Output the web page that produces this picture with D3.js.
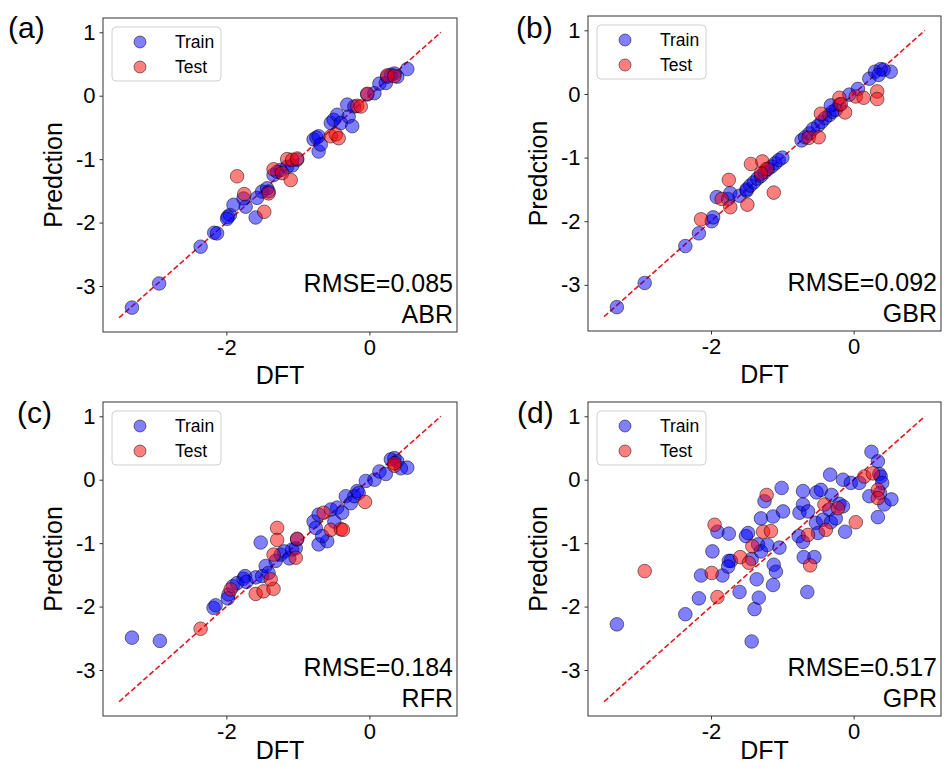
<!DOCTYPE html>
<html>
<head>
<meta charset="utf-8">
<script src="https://cdn.jsdelivr.net/npm/d3@7"></script>
<style>
  html, body { margin: 0; padding: 0; background: #fff; }
  svg text { font-family: "Liberation Sans", Arial, Helvetica, sans-serif; fill: #000; }
</style>
</head>
<body>
<svg id="chart" width="944" height="771"></svg>
<script>
// DFT vs predicted values, [DFT, prediction] pairs for each regressor
const abrTrain = [[-3.32,-3.34],[-2.94,-2.96],[-2.36,-2.38],[-2.17,-2.16],[-2.13,-2.17],[-1.98,-1.91],[-1.95,-1.88],[-1.99,-1.94],[-1.90,-1.72],[-1.73,-1.75],[-1.76,-1.62],[-1.59,-1.92],[-1.57,-1.61],[-1.50,-1.51],[-1.43,-1.46],[-1.41,-1.51],[-1.34,-1.25],[-1.29,-1.20],[-1.24,-1.17],[-1.15,-1.12],[-1.08,-1.10],[-1.01,-1.01],[-0.78,-0.69],[-0.74,-0.66],[-0.71,-0.64],[-0.71,-0.88],[-0.68,-0.77],[-0.54,-0.43],[-0.50,-0.38],[-0.45,-0.30],[-0.40,-0.43],[-0.31,-0.14],[-0.29,-0.33],[-0.24,-0.48],[-0.21,-0.17],[-0.03,0.02],[0.07,0.04],[0.14,0.19],[0.23,0.20],[0.30,0.33],[0.35,0.35],[0.39,0.30],[0.53,0.42],[0.25,0.30]];
const abrTest = [[-1.85,-1.27],[-1.75,-1.55],[-1.47,-1.83],[-1.41,-1.54],[-1.34,-1.16],[-1.22,-1.22],[-1.15,-1.00],[-1.08,-1.01],[-1.01,-0.99],[-1.10,-1.33],[-0.54,-0.64],[-0.47,-0.61],[-0.43,-0.67],[-0.17,-0.16],[-0.12,-0.17],[-0.03,0.03],[0.25,0.32],[0.35,0.31]];

const gbrTrain = [[-3.32,-3.35],[-2.93,-2.97],[-2.36,-2.39],[-2.17,-2.19],[-1.99,-2.00],[-1.97,-1.94],[-1.92,-1.62],[-1.76,-1.65],[-1.73,-1.56],[-1.60,-1.60],[-1.50,-1.52],[-1.50,-1.50],[-1.45,-1.44],[-1.40,-1.39],[-1.35,-1.33],[-1.30,-1.29],[-1.25,-1.23],[-1.20,-1.18],[-1.15,-1.14],[-1.10,-1.09],[-1.05,-1.04],[-1.00,-1.00],[-0.73,-0.73],[-0.68,-0.68],[-0.62,-0.62],[-0.57,-0.55],[-0.50,-0.50],[-0.45,-0.44],[-0.40,-0.38],[-0.34,-0.33],[-0.30,-0.28],[-0.25,-0.25],[-0.20,-0.17],[-0.32,-0.18],[-0.06,-0.01],[0.06,0.08],[0.22,0.24],[0.30,0.35],[0.38,0.39],[0.52,0.35],[0.42,0.38],[0.35,0.30]];
const gbrTest = [[-2.14,-1.97],[-1.85,-1.65],[-1.75,-1.35],[-1.73,-1.78],[-1.49,-1.74],[-1.44,-1.10],[-1.28,-1.06],[-1.22,-1.18],[-1.12,-1.55],[-0.63,-0.69],[-0.49,-0.68],[-0.46,-0.31],[-0.20,-0.06],[-0.12,-0.29],[0.03,-0.04],[0.14,-0.06],[0.33,0.04],[0.33,-0.08],[-0.18,-0.16],[-1.30,-1.25]];

const rfrTrain = [[-3.32,-2.49],[-2.93,-2.54],[-2.18,-2.02],[-2.15,-1.98],[-1.98,-1.87],[-1.97,-1.81],[-1.91,-1.68],[-1.85,-1.63],[-1.76,-1.56],[-1.74,-1.52],[-1.72,-1.61],[-1.59,-1.54],[-1.52,-0.99],[-1.50,-1.52],[-1.45,-1.36],[-1.41,-1.47],[-1.31,-1.28],[-1.24,-1.18],[-1.19,-1.13],[-1.12,-1.24],[-1.08,-1.10],[-1.03,-1.08],[-1.01,-0.94],[-0.78,-0.66],[-0.71,-0.55],[-0.75,-0.76],[-0.71,-1.02],[-0.59,-0.97],[-0.66,-0.89],[-0.54,-0.47],[-0.49,-0.66],[-0.45,-0.44],[-0.38,-0.52],[-0.33,-0.26],[-0.26,-0.37],[-0.21,-0.26],[-0.17,-0.18],[-0.15,-0.21],[-0.05,-0.02],[0.07,0.00],[0.14,0.13],[0.23,0.09],[0.30,0.32],[0.35,0.34],[0.39,0.29],[0.53,0.19],[0.44,0.18]];
const rfrTest = [[-2.36,-2.35],[-1.94,-1.73],[-1.59,-1.80],[-1.48,-1.76],[-1.34,-1.72],[-1.38,-1.57],[-1.34,-1.18],[-1.29,-0.76],[-1.29,-0.95],[-1.03,-1.23],[-1.01,-0.93],[-0.64,-0.52],[-0.54,-0.79],[-0.40,-0.78],[-0.37,-0.79],[-0.06,-0.35],[0.35,0.22],[0.35,0.26]];

const gprTrain = [[-3.32,-2.28],[-2.36,-2.12],[-2.17,-1.87],[-2.14,-1.51],[-1.98,-1.13],[-1.91,-0.82],[-1.84,-1.51],[-1.75,-0.85],[-1.75,-1.28],[-1.72,-1.28],[-1.76,-1.37],[-1.60,-1.77],[-1.51,-0.89],[-1.48,-0.84],[-1.43,-1.25],[-1.43,-2.55],[-1.39,-2.04],[-1.36,-1.57],[-1.34,-1.02],[-1.33,-1.86],[-1.30,-1.13],[-1.30,-0.61],[-1.25,-0.34],[-1.21,-1.03],[-1.13,-0.58],[-1.12,-1.34],[-1.09,-1.45],[-1.13,-1.66],[-1.04,-1.07],[-1.01,-0.13],[-0.99,-0.50],[-0.77,-0.89],[-0.76,-0.52],[-0.71,-0.39],[-0.71,-0.18],[-0.71,-0.98],[-0.70,-1.22],[-0.64,-0.50],[-0.65,-1.77],[-0.55,-1.22],[-0.53,-0.68],[-0.52,-0.20],[-0.50,-0.84],[-0.46,-0.16],[-0.43,-0.63],[-0.34,-0.47],[-0.32,-0.67],[-0.31,-0.24],[-0.33,0.08],[-0.25,-0.61],[-0.20,-0.38],[-0.15,-0.42],[-0.15,0.00],[-0.12,-0.82],[-0.04,-0.05],[0.08,-0.05],[0.25,0.44],[0.22,-0.26],[0.34,0.29],[0.36,0.09],[0.38,0.05],[0.40,-0.05],[0.34,-0.59],[0.37,-0.21],[0.43,-0.39],[0.53,-0.31]];
const gprTest = [[-2.93,-1.44],[-1.99,-1.47],[-1.95,-0.71],[-1.91,-1.85],[-1.59,-1.22],[-1.47,-1.31],[-1.42,-1.05],[-1.27,-0.82],[-1.22,-0.24],[-1.16,-0.81],[-0.64,-0.87],[-0.61,-1.35],[-0.39,-0.79],[-0.41,-0.39],[-0.22,-0.45],[0.03,-0.67],[0.15,0.05],[0.27,0.10],[0.34,-0.16],[0.34,-0.29]];

const panelLetters = ["(a)", "(b)", "(c)", "(d)"];
const modelNames = ["ABR", "GBR", "RFR", "GPR"];
const rmseValues = ["0.085", "0.092", "0.184", "0.517"];
const trainSets = [abrTrain, gbrTrain, rfrTrain, gprTrain];
const testSets = [abrTest, gbrTest, rfrTest, gprTest];
const xTicks = [-2, 0];
const yTicks = [1, 0, -1, -2, -3];
const seriesNames = ["Train", "Test"];
const axisDomain = [-3.725, 1.225];
const refLine = [-3.5, 1];

// Axes boxes (pixel frames), panel-letter anchors and x-title offsets
const frames = [
  {l: 103, r: 457, t: 18, b: 332, lx: 8, ly: 38, xt: 52},
  {l: 588, r: 941, t: 16, b: 331, lx: 516, ly: 38, xt: 52},
  {l: 103, r: 457, t: 402, b: 716, lx: 17, ly: 423, xt: 43},
  {l: 588, r: 941, t: 402, b: 716, lx: 517, ly: 423, xt: 43}
];

const trainStyle = {fill: "#0000ff"};
const testStyle = {fill: "#ff0000"};
const markerR = 6.8;

const svg = d3.select("#chart");

frames.forEach((f, i) => {
  const x = d3.scaleLinear().domain(axisDomain).range([f.l, f.r]);
  const y = d3.scaleLinear().domain(axisDomain).range([f.b, f.t]);
  const g = svg.append("g");

  // y = x reference line
  g.append("line")
    .attr("x1", x(refLine[0])).attr("y1", y(refLine[0]))
    .attr("x2", x(refLine[1])).attr("y2", y(refLine[1]))
    .attr("stroke", "#e8141c").attr("stroke-width", 1.6)
    .attr("stroke-dasharray", "5.5,2.6");

  const drawPts = (data, style) => {
    g.append("g").selectAll("circle").data(data).join("circle")
      .attr("cx", d => x(d[0])).attr("cy", d => y(d[1]))
      .attr("r", markerR)
      .attr("fill", style.fill).attr("fill-opacity", 0.5)
      .attr("stroke", "#000").attr("stroke-opacity", 0.5).attr("stroke-width", 1);
  };
  drawPts(trainSets[i], trainStyle);
  drawPts(testSets[i], testStyle);

  // frame
  g.append("rect")
    .attr("x", f.l).attr("y", f.t).attr("width", f.r - f.l).attr("height", f.b - f.t)
    .attr("fill", "none").attr("stroke", "#333").attr("stroke-width", 1);

  // axes
  const xa = g.append("g").attr("transform", `translate(0,${f.b})`)
    .call(d3.axisBottom(x).tickValues(xTicks).tickSize(3.5).tickPadding(4).tickFormat(d => String(d)));
  const ya = g.append("g").attr("transform", `translate(${f.l},0)`)
    .call(d3.axisLeft(y).tickValues(yTicks).tickSize(3.5).tickPadding(4).tickFormat(d => String(d)));
  [xa, ya].forEach(a => {
    a.select(".domain").remove();
    a.selectAll(".tick line").attr("stroke", "#333");
    a.selectAll(".tick text").attr("font-size", 22).attr("font-family", '"Liberation Sans", Arial, sans-serif').attr("fill", "#000");
  });

  // axis titles
  g.append("text").attr("x", (f.l + f.r) / 2).attr("y", f.b + f.xt)
    .attr("text-anchor", "middle").attr("font-size", 25).text("DFT");
  g.append("text")
    .attr("transform", `translate(${f.l - 41},${(f.t + f.b) / 2}) rotate(-90)`)
    .attr("text-anchor", "middle").attr("font-size", 25).text("Predction");

  // panel letter
  g.append("text").attr("x", f.lx).attr("y", f.ly).attr("font-size", 30).text(panelLetters[i]);

  // metric annotation
  g.append("text").attr("x", f.r - 4).attr("y", f.b - 40)
    .attr("text-anchor", "end").attr("font-size", 25).text("RMSE=" + rmseValues[i]);
  g.append("text").attr("x", f.r - 4).attr("y", f.b - 9)
    .attr("text-anchor", "end").attr("font-size", 25).text(modelNames[i]);

  // legend
  const lg = g.append("g").attr("transform", `translate(${f.l + 9},${f.t + 9})`);
  lg.append("rect").attr("width", 109).attr("height", 54).attr("rx", 4)
    .attr("fill", "#fff").attr("fill-opacity", 0.8)
    .attr("stroke", "#d0d0d0").attr("stroke-width", 1);
  [trainStyle, testStyle].forEach((s, k) => {
    lg.append("circle").attr("cx", 28).attr("cy", 15 + k * 25).attr("r", 6)
      .attr("fill", s.fill).attr("fill-opacity", 0.5)
      .attr("stroke", "#000").attr("stroke-opacity", 0.5);
    lg.append("text").attr("x", 63).attr("y", 21 + k * 25)
      .attr("font-size", 17.5).text(seriesNames[k]);
  });
});
</script>
</body>
</html>
